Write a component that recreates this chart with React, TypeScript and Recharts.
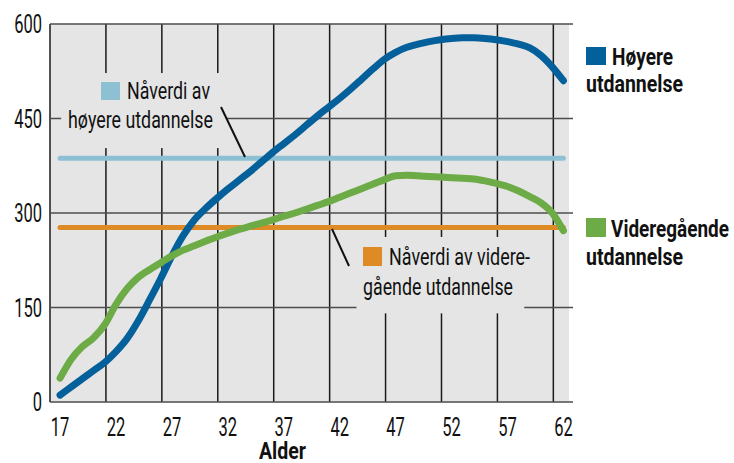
import React from 'react';
import { LineChart, Line, XAxis, YAxis, CartesianGrid, ReferenceArea } from 'recharts';

const ages = [17, 18, 19, 20, 21, 22, 23, 24, 25, 26, 27, 28, 29, 30, 31, 32, 33, 34, 35, 36, 37, 38, 39, 40, 41, 42, 43, 44, 45, 46, 47, 48, 49, 50, 51, 52, 53, 54, 55, 56, 57, 58, 59, 60, 61, 62];
const higherEdu = [11, 24, 37, 50, 63, 80, 101, 129, 162, 196, 232, 264, 289, 307, 323, 338, 352, 366, 381, 396, 410, 424, 439, 454, 468, 482, 497, 513, 529, 544, 555, 563, 568, 572, 575, 577, 578, 578, 577, 575, 572, 568, 562, 550, 532, 510];
const upperSecondary = [38, 68, 88, 102, 123, 155, 180, 198, 210, 221, 232, 241, 248, 255, 262, 268, 274, 279, 284, 289, 295, 300, 306, 312, 318, 325, 332, 339, 346, 353, 359, 360, 359, 358, 357, 356, 355, 354, 351, 347, 342, 335, 326, 316, 300, 272];
const pvHigher = 387;
const pvUpperSecondary = 277;
const xTicks = [17, 22, 27, 32, 37, 42, 47, 52, 57, 62];
const yTicks = [0, 150, 300, 450, 600];
const gridAges = [16.1, 21.1, 26.1, 31.1, 36.1, 41.1, 46.1, 51.1, 56.1, 61.1];
const xDomain = [16.1, 62.5];
const yDomain = [0, 600];
// label boxes in data space: [age1, age2, value1, value2]
const boxHigher = [17.1, 31.9, 403, 522];
const boxUpper = [43.5, 58.5, 141, 262];

const data = ages.map((a, i) => ({
  age: a,
  hoy: higherEdu[i],
  vgs: upperSecondary[i],
  pvH: pvHigher,
  pvV: pvUpperSecondary,
}));

const W = 734;
const H = 463;
const M = { top: 24, right: 165, bottom: 0, left: 0 };
const Y_AXIS_W = 50;
const X_AXIS_H = 61;
const plot = {
  left: M.left + Y_AXIS_W,
  top: M.top,
  width: W - M.left - Y_AXIS_W - M.right,
  height: H - M.top - M.bottom - X_AXIS_H,
};
const px = (a: number) => plot.left + ((a - xDomain[0]) / (xDomain[1] - xDomain[0])) * plot.width;
const py = (v: number) => plot.top + plot.height - ((v - yDomain[0]) / (yDomain[1] - yDomain[0])) * plot.height;

const C_BLUE = '#04609a';
const C_GREEN = '#6cab45';
const C_LBLUE = '#8ec0d3';
const C_ORANGE = '#de8a25';
const C_BG = '#e5e5e5';
const C_GRID_V = '#1a1a1a';
const FONT = 'Roboto, "DejaVu Sans", sans-serif';

const XTick = (p: any) => (
  <text
    transform={`translate(${p.x},${p.y + 34}) scale(0.66,1)`}
    textAnchor="middle"
    fontFamily={FONT}
    fontSize={25}
    fill="#111"
  >
    {p.payload.value}
  </text>
);

const YTick = (p: any) => (
  <text
    transform={`translate(${p.x},${p.y + 9}) scale(0.66,1)`}
    textAnchor="end"
    fontFamily={FONT}
    fontSize={25}
    fill="#111"
  >
    {p.payload.value}
  </text>
);

const T = ({ x, y, w, bold, children }: any) => (
  <text
    x={x}
    y={y}
    textLength={w}
    lengthAdjust="spacingAndGlyphs"
    fontFamily={FONT}
    fontSize={24}
    fontWeight={bold ? 700 : 400}
    fill="#111"
  >
    {children}
  </text>
);

const BoxRect = ({ b }: any) => (
  <rect x={px(b[0])} y={py(b[3])} width={px(b[1]) - px(b[0])} height={py(b[2]) - py(b[3])} fill={C_BG} />
);

export default function App() {
  return (
    <div style={{ position: 'absolute', left: 0, top: 0, width: W, height: H, background: '#fff' }}>
      <svg width={W} height={H} style={{ position: 'absolute', left: 0, top: 0 }}>
        <rect x={plot.left} y={plot.top} width={plot.width} height={plot.height} fill={C_BG} />
        {gridAges.map((a) => (
          <rect key={'v' + a} x={px(a) - 0.75} y={plot.top} width={1.5} height={plot.height} fill={C_GRID_V} />
        ))}
        <BoxRect b={boxHigher} />
        <BoxRect b={boxUpper} />
      </svg>
      <div style={{ position: 'absolute', left: 0, top: 0 }}>
        <LineChart width={W} height={H} data={data} margin={M}>
          <CartesianGrid
            fill="none"
            vertical={false}
            horizontal={(p: any) => (
              <line key={p.key} x1={p.x1} y1={p.y1} x2={p.x2 + 4} y2={p.y2} stroke="#4d4d4d" strokeWidth={1.5} />
            )}
          />
          <XAxis
            type="number"
            dataKey="age"
            domain={xDomain}
            ticks={xTicks}
            interval={0}
            allowDataOverflow
            axisLine={false}
            tickLine={false}
            tickSize={0}
            tickMargin={0}
            height={X_AXIS_H}
            tick={<XTick />}
          />
          <YAxis
            type="number"
            domain={yDomain}
            ticks={yTicks}
            interval={0}
            axisLine={false}
            tickLine={false}
            tickSize={5}
            tickMargin={3}
            width={Y_AXIS_W}
            tick={<YTick />}
          />
          <ReferenceArea
            x1={boxHigher[0]}
            x2={boxHigher[1]}
            y1={boxHigher[2]}
            y2={boxHigher[3]}
            fill={C_BG}
            fillOpacity={1}
            stroke="none"
            ifOverflow="visible"
          />
          <ReferenceArea
            x1={boxUpper[0]}
            x2={boxUpper[1]}
            y1={boxUpper[2]}
            y2={boxUpper[3]}
            fill={C_BG}
            fillOpacity={1}
            stroke="none"
            ifOverflow="visible"
          />
          <Line type="linear" dataKey="pvH" stroke={C_LBLUE} strokeWidth={5} strokeLinecap="round" dot={false} activeDot={false} isAnimationActive={false} />
          <Line type="linear" dataKey="pvV" stroke={C_ORANGE} strokeWidth={5} strokeLinecap="round" dot={false} activeDot={false} isAnimationActive={false} />
          <Line type="monotone" dataKey="hoy" stroke={C_BLUE} strokeWidth={7} strokeLinecap="round" dot={false} activeDot={false} isAnimationActive={false} />
          <Line type="monotone" dataKey="vgs" stroke={C_GREEN} strokeWidth={7} strokeLinecap="round" dot={false} activeDot={false} isAnimationActive={false} />
        </LineChart>
      </div>
      <svg width={W} height={H} style={{ position: 'absolute', left: 0, top: 0, pointerEvents: 'none' }}>
        <rect x={101} y={82} width={19} height={18} fill={C_LBLUE} />
        <T x={127} y={99} w={83}>Nåverdi av</T>
        <T x={68} y={128} w={145}>høyere utdannelse</T>
        <line x1={221} y1={107} x2={245} y2={157} stroke="#111" strokeWidth={2} />

        <rect x={363} y={247} width={19} height={19} fill={C_ORANGE} />
        <T x={389} y={265} w={141}>Nåverdi av videre-</T>
        <T x={363} y={295} w={150}>gående utdannelse</T>
        <line x1={332} y1={229} x2={349} y2={266} stroke="#111" strokeWidth={2} />

        <rect x={586} y={47} width={20} height={18} fill={C_BLUE} />
        <T x={612} y={65} w={61} bold>Høyere</T>
        <T x={586} y={92} w={97} bold>utdannelse</T>

        <rect x={586} y={218} width={20} height={19} fill={C_GREEN} />
        <T x={611} y={237} w={118} bold>Videregående</T>
        <T x={586} y={265} w={97} bold>utdannelse</T>

        <T x={259} y={459} w={47} bold>Alder</T>
      </svg>
    </div>
  );
}
